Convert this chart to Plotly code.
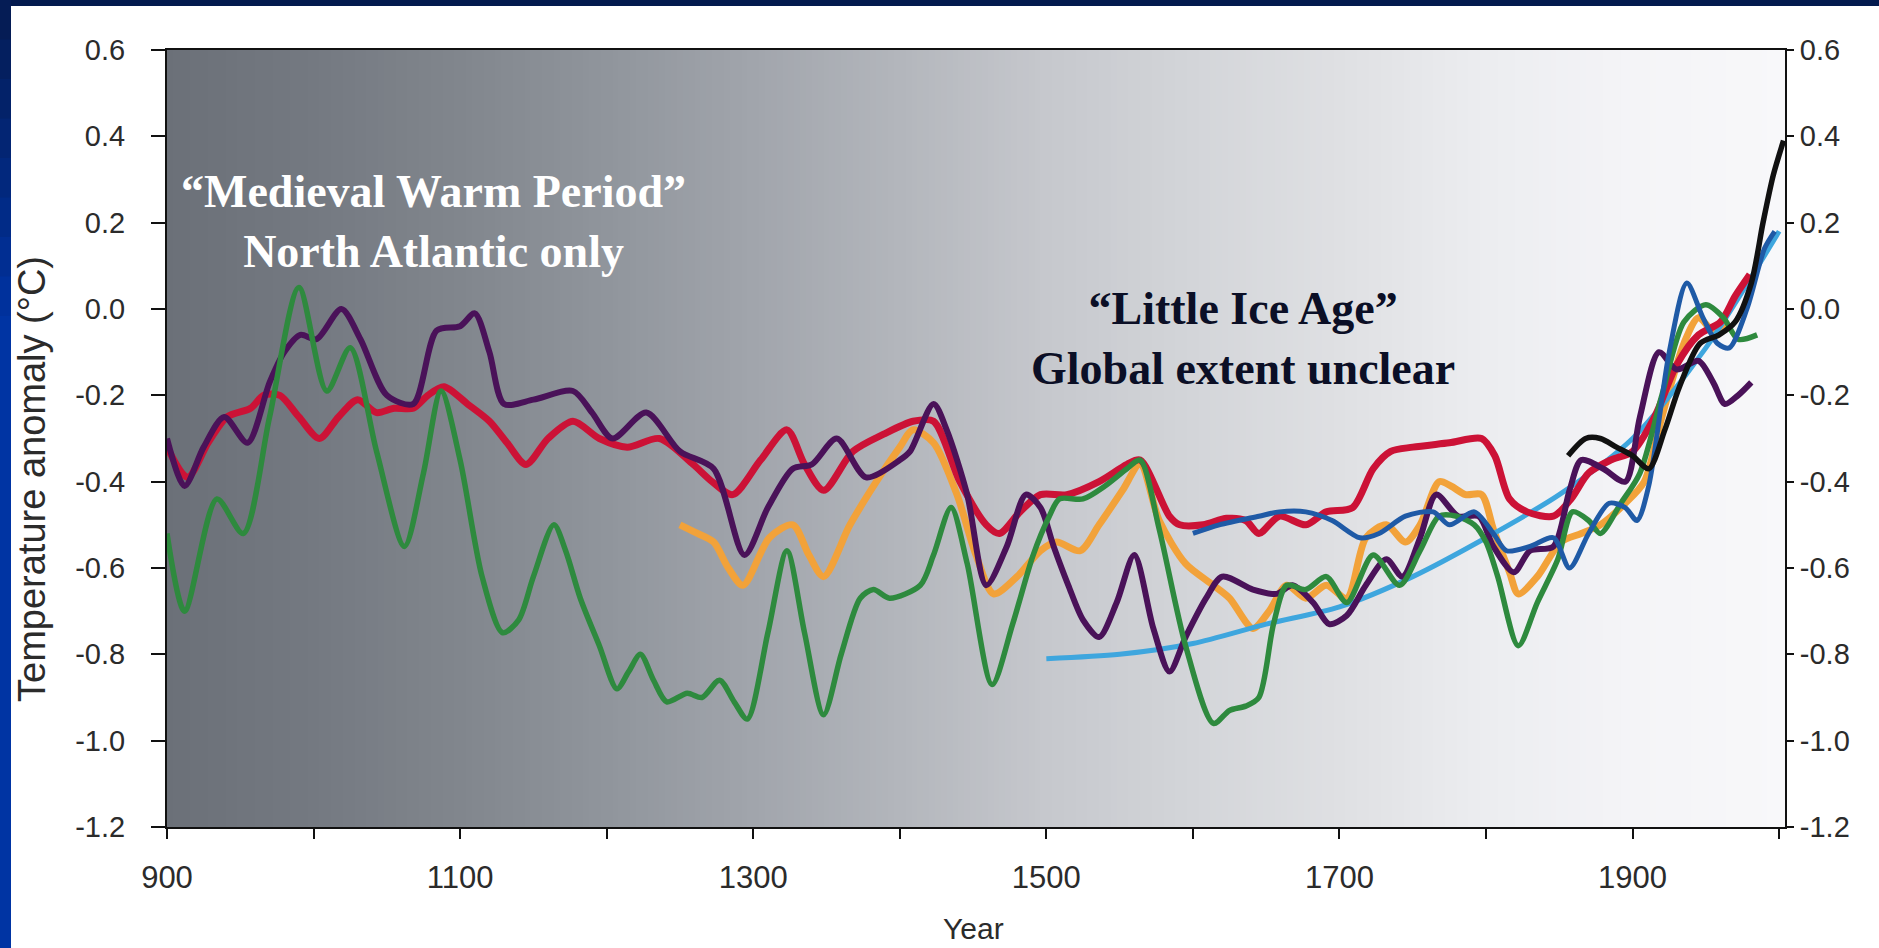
import numpy as np
import plotly.graph_objects as go

# ---- reconstructions (year, temperature anomaly in °C) ----
red_years = [900, 914, 928, 941, 957, 966, 977, 990, 1004, 1017, 1030, 1043, 1055, 1068, 1078, 1089,
             1105, 1120, 1132, 1145, 1160, 1177, 1195, 1214, 1236, 1259, 1272, 1286, 1305, 1323, 1335,
             1348, 1368, 1389, 1409, 1423, 1441, 1459, 1468, 1482, 1496, 1514, 1536, 1555, 1564, 1584,
             1591, 1607, 1623, 1636, 1645, 1659, 1677, 1691, 1709, 1723, 1735, 1750, 1775, 1797, 1806,
             1816, 1828, 1846, 1858, 1870, 1885, 1900, 1915, 1930, 1945, 1960, 1970, 1980]
red_vals = [-0.32, -0.39, -0.31, -0.25, -0.23, -0.20, -0.20, -0.25, -0.30, -0.25, -0.21, -0.24, -0.23,
            -0.23, -0.20, -0.18, -0.22, -0.26, -0.31, -0.36, -0.30, -0.26, -0.30, -0.32, -0.30, -0.36,
            -0.40, -0.43, -0.35, -0.28, -0.36, -0.42, -0.33, -0.29, -0.26, -0.26, -0.40, -0.50, -0.52,
            -0.47, -0.43, -0.43, -0.40, -0.36, -0.35, -0.48, -0.50, -0.50, -0.485, -0.49, -0.52, -0.48,
            -0.50, -0.47, -0.46, -0.37, -0.33, -0.32, -0.31, -0.30, -0.34, -0.44, -0.47, -0.48, -0.44,
            -0.38, -0.35, -0.33, -0.25, -0.13, -0.06, -0.03, 0.03, 0.08]

purple_years = [900, 912, 925, 939, 955, 970, 980, 991, 1002, 1019, 1032, 1050, 1068, 1084, 1100, 1110,
                1120, 1130, 1150, 1177, 1190, 1204, 1227, 1250, 1273, 1294, 1310, 1327, 1340, 1357, 1377,
                1400, 1407, 1423, 1432, 1446, 1459, 1473, 1486, 1496, 1505, 1515, 1525, 1536, 1548, 1560,
                1573, 1584, 1595, 1609, 1620, 1641, 1657, 1668, 1682, 1693, 1705, 1718, 1732, 1743, 1755,
                1766, 1781, 1795, 1805, 1819, 1830, 1846, 1857, 1865, 1880, 1895, 1905, 1918, 1930, 1945,
                1955, 1963, 1972, 1981]
purple_vals = [-0.30, -0.41, -0.32, -0.25, -0.31, -0.17, -0.10, -0.06, -0.07, 0.00, -0.07, -0.20, -0.22,
               -0.05, -0.04, -0.01, -0.10, -0.22, -0.21, -0.19, -0.24, -0.30, -0.24, -0.33, -0.37, -0.57,
               -0.46, -0.37, -0.36, -0.30, -0.39, -0.35, -0.33, -0.22, -0.28, -0.43, -0.64, -0.55, -0.43,
               -0.46, -0.55, -0.64, -0.72, -0.76, -0.68, -0.57, -0.74, -0.84, -0.76, -0.67, -0.62, -0.65,
               -0.66, -0.64, -0.68, -0.73, -0.71, -0.64, -0.58, -0.62, -0.53, -0.43, -0.48, -0.48, -0.55,
               -0.61, -0.56, -0.55, -0.42, -0.35, -0.37, -0.40, -0.25, -0.10, -0.14, -0.12, -0.17, -0.22,
               -0.20, -0.17]

green_years = [900, 912, 934, 952, 970, 990, 1009, 1025, 1043, 1062, 1075, 1087, 1100, 1115, 1129, 1140,
               1150, 1164, 1172, 1182, 1195, 1207, 1215, 1223, 1232, 1241, 1255, 1265, 1277, 1287, 1296,
               1310, 1323, 1335, 1348, 1360, 1373, 1382, 1393, 1414, 1423, 1435, 1446, 1463, 1477, 1491,
               1502, 1509, 1525, 1540, 1555, 1564, 1577, 1595, 1614, 1625, 1636, 1645, 1655, 1664, 1677,
               1691, 1705, 1723, 1741, 1755, 1768, 1780, 1792, 1800, 1808, 1822, 1835, 1849, 1859, 1870,
               1878, 1892, 1905, 1920, 1935, 1950, 1962, 1972, 1985]
green_vals = [-0.52, -0.70, -0.44, -0.52, -0.25, 0.05, -0.19, -0.09, -0.33, -0.55, -0.38, -0.19, -0.35,
              -0.62, -0.75, -0.72, -0.62, -0.50, -0.56, -0.67, -0.78, -0.88, -0.84, -0.80, -0.86, -0.91,
              -0.89, -0.90, -0.86, -0.91, -0.95, -0.75, -0.56, -0.75, -0.94, -0.80, -0.67, -0.65, -0.67,
              -0.64, -0.57, -0.46, -0.59, -0.87, -0.73, -0.57, -0.48, -0.44, -0.44, -0.41, -0.37, -0.35,
              -0.51, -0.78, -0.96, -0.93, -0.92, -0.90, -0.73, -0.64, -0.65, -0.62, -0.68, -0.57, -0.64,
              -0.56, -0.48, -0.48, -0.50, -0.54, -0.62, -0.78, -0.68, -0.58, -0.47, -0.49, -0.52, -0.45,
              -0.38, -0.20, -0.03, 0.01, -0.02, -0.07, -0.06]

orange_years = [1250, 1262, 1273, 1283, 1293, 1311, 1327, 1338, 1348, 1366, 1384, 1400, 1409, 1423, 1439,
                1452, 1464, 1480, 1496, 1507, 1523, 1536, 1552, 1564, 1577, 1595, 1614, 1625, 1641, 1652,
                1664, 1677, 1691, 1705, 1718, 1732, 1745, 1755, 1768, 1776, 1786, 1797, 1805, 1816, 1822,
                1835, 1851, 1865, 1878, 1895, 1908, 1920, 1935, 1945, 1955, 1965]
orange_vals = [-0.50, -0.52, -0.54, -0.60, -0.64, -0.53, -0.50, -0.57, -0.62, -0.50, -0.40, -0.32, -0.28,
               -0.31, -0.43, -0.57, -0.66, -0.62, -0.56, -0.54, -0.56, -0.50, -0.42, -0.36, -0.49, -0.59,
               -0.64, -0.67, -0.74, -0.70, -0.64, -0.67, -0.64, -0.67, -0.53, -0.50, -0.54, -0.50, -0.40,
               -0.41, -0.43, -0.43, -0.51, -0.61, -0.66, -0.62, -0.54, -0.52, -0.50, -0.45, -0.40, -0.25,
               -0.08, -0.02, -0.05, -0.03]

borehole_years = [1500, 1550, 1600, 1650, 1700, 1750, 1800, 1850, 1900, 1950, 2000]
borehole_vals = [-0.81, -0.80, -0.775, -0.73, -0.69, -0.62, -0.53, -0.43, -0.30, -0.09, 0.18]

glacier_years = [1600, 1618, 1645, 1659, 1677, 1695, 1714, 1727, 1745, 1764, 1775, 1792, 1805, 1814, 1830,
                 1846, 1857, 1870, 1884, 1895, 1903, 1911, 1925, 1937, 1948, 1958, 1966, 1978, 1990, 1997]
glacier_vals = [-0.52, -0.50, -0.48, -0.47, -0.47, -0.49, -0.53, -0.52, -0.48, -0.47, -0.50, -0.47, -0.52,
                -0.56, -0.55, -0.53, -0.60, -0.52, -0.45, -0.46, -0.49, -0.41, -0.10, 0.06, -0.02, -0.08,
                -0.09, 0.00, 0.14, 0.18]

instrumental_years = [1856, 1868, 1878, 1889, 1900, 1911, 1922, 1932, 1946, 1959, 1970, 1981, 1989, 1996, 2003]
instrumental_vals = [-0.34, -0.30, -0.30, -0.32, -0.34, -0.37, -0.28, -0.18, -0.08, -0.06, -0.03, 0.06,
                     0.20, 0.31, 0.39]

# ---- axes ----
x_range = [900, 2004]
y_range = [-1.2, 0.6]
x_ticks = list(range(900, 2001, 100))
x_ticklabels = [str(t) if (t - 900) % 200 == 0 else "" for t in x_ticks]
y_ticks = [0.6, 0.4, 0.2, 0.0, -0.2, -0.4, -0.6, -0.8, -1.0, -1.2]
y_ticklabels = ["%.1f" % v for v in y_ticks]

# ---- figure geometry (pixels) ----
W, H = 1879, 948
ML, MR, MT, MB = 167, 94, 50, 121
PW, PH = W - ML - MR, H - MT - MB


def px(xp):
    return (xp - ML) / PW


def py(yp):
    return (H - MB - yp) / PH


fig = go.Figure()

# background shading of the plot area: dark grey on the left fading to near white
grad_stops = [(900, (107, 112, 120)), (1000, (116, 121, 129)), (1100, (129, 134, 141)),
              (1200, (144, 149, 156)), (1300, (161, 165, 172)), (1400, (179, 182, 188)),
              (1500, (198, 200, 205)), (1600, (211, 213, 217)), (1700, (223, 224, 227)),
              (1800, (236, 237, 240)), (1900, (244, 244, 247)), (2004, (248, 248, 250))]
span = x_range[1] - x_range[0]
colorscale = [[(yr - x_range[0]) / span, "rgb(%d,%d,%d)" % c] for yr, c in grad_stops]
edges = np.linspace(x_range[0], x_range[1], 277)
mids = (edges[:-1] + edges[1:]) / 2
fig.add_trace(go.Heatmap(x=edges, y=y_range, z=[mids], colorscale=colorscale,
                         zmin=x_range[0], zmax=x_range[1], showscale=False, hoverinfo="skip"))

series = [
    (orange_years, orange_vals, "#f2a23a", 7),
    (borehole_years, borehole_vals, "#3ea6de", 5),
    (red_years, red_vals, "#cc1236", 7),
    (purple_years, purple_vals, "#4a1259", 6),
    (green_years, green_vals, "#2e8a3e", 5.5),
    (glacier_years, glacier_vals, "#1f5aa6", 5),
    (instrumental_years, instrumental_vals, "#111111", 5.5),
]
for xs, ys, col, w in series:
    fig.add_trace(go.Scatter(x=xs, y=ys, mode="lines",
                             line=dict(color=col, width=w, shape="spline", smoothing=0.8),
                             hoverinfo="skip", showlegend=False))

# right-hand axis carrier
fig.add_trace(go.Scatter(x=[None], y=[None], yaxis="y2", showlegend=False, hoverinfo="skip"))

sans = "Liberation Sans, Arial, sans-serif"
ytick_font = dict(family=sans, size=29, color="#2b2b2b")
xtick_font = dict(family=sans, size=31, color="#2b2b2b")

fig.update_layout(
    width=W, height=H,
    margin=dict(l=ML, r=MR, t=MT, b=MB, pad=0),
    paper_bgcolor="white", plot_bgcolor="white",
    showlegend=False,
    xaxis=dict(range=x_range, tickvals=x_ticks, ticktext=x_ticklabels, ticks="outside",
               ticklen=10, tickwidth=2, tickcolor="#111", showline=True, linecolor="#111",
               linewidth=2, mirror=True, showgrid=False, zeroline=False, tickfont=xtick_font,
               ticklabelstandoff=12),
    yaxis=dict(range=y_range, tickvals=y_ticks, ticktext=y_ticklabels, ticks="outside",
               ticklen=14, tickwidth=2, tickcolor="#111", showline=True, linecolor="#111",
               linewidth=2, showgrid=False, zeroline=False, tickfont=ytick_font,
               ticklabelstandoff=20),
    yaxis2=dict(range=y_range, tickvals=y_ticks, ticktext=y_ticklabels, ticks="outside",
                ticklen=7, tickwidth=2, tickcolor="#111", showline=True, linecolor="#111",
                linewidth=2, overlaying="y", side="right", showgrid=False, zeroline=False,
                tickfont=ytick_font, ticklabelstandoff=0),
)

# frame strips along the top and left edges of the page
fig.add_shape(type="rect", xref="paper", yref="paper", x0=px(0), x1=px(W), y0=py(6), y1=py(0),
              fillcolor="#031a4e", line_width=0, layer="above")
n_seg = 24
for i in range(n_seg):
    t = i / (n_seg - 1)
    r = int(5 + (0 - 5) * min(1, t * 3))
    g = int(28 + (52 - 28) * min(1, t * 3))
    b = int(85 + (163 - 85) * min(1, t * 3))
    y0p = H * i / n_seg
    y1p = H * (i + 1) / n_seg + 1
    fig.add_shape(type="rect", xref="paper", yref="paper", x0=px(0), x1=px(11),
                  y0=py(y1p), y1=py(y0p), fillcolor="rgb(%d,%d,%d)" % (r, g, b),
                  line_width=0, layer="above")

serif = "Liberation Serif, Times New Roman, serif"
fig.add_annotation(x=1082, y=0.202, xref="x", yref="y",
                   text="<b>\u201cMedieval Warm Period\u201d<br>North Atlantic only</b>",
                   showarrow=False, font=dict(family=serif, size=46, color="white"),
                   align="center", xanchor="center", yanchor="middle")
fig.add_annotation(x=1634, y=-0.068, xref="x", yref="y",
                   text="<b>\u201cLittle Ice Age\u201d<br>Global extent unclear</b>",
                   showarrow=False, font=dict(family=serif, size=46, color="#0b0f26"),
                   align="center", xanchor="center", yanchor="middle")

# axis titles
fig.add_annotation(x=px(32), y=py(479), xref="paper", yref="paper",
                   text="Temperature anomaly (\u00b0C)", textangle=-90, showarrow=False,
                   font=dict(family=sans, size=38, color="#2b2b2b"),
                   xanchor="center", yanchor="middle")
fig.add_annotation(x=px(973), y=py(947), xref="paper", yref="paper",
                   text="Year", showarrow=False,
                   font=dict(family=sans, size=30, color="#2b2b2b"),
                   xanchor="center", yanchor="bottom")

fig.write_html("out.html")
